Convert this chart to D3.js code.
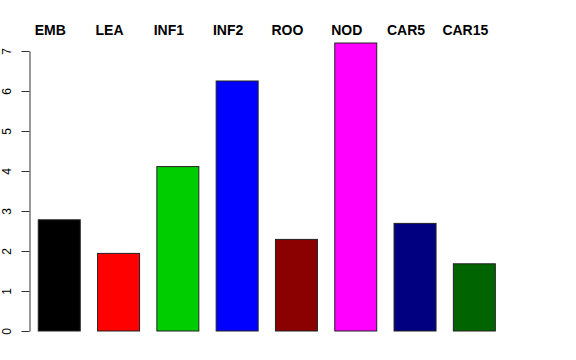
<!DOCTYPE html>
<html>
<head>
<meta charset="utf-8">
<script src="https://cdn.jsdelivr.net/npm/d3@7"></script>
<style>
  body { margin: 0; background: #fff; }
  svg { display: block; font-family: "Liberation Sans", Arial, sans-serif; }
</style>
</head>
<body>
<div id="chart"></div>
<script>
// tissue groups and their values
const categories = ['EMB', 'LEA', 'INF1', 'INF2', 'ROO', 'NOD', 'CAR5', 'CAR15'];
const values = [2.78, 1.94, 4.11, 6.25, 2.29, 7.2, 2.69, 1.68];
const colors = ['#000000', '#ff0000', '#00cd00', '#0000ff', '#8b0000', '#ff00ff', '#000080', '#006400'];
const yTicks = [0, 1, 2, 3, 4, 5, 6, 7];

const w = 576, h = 360;
const svg = d3.select('#chart').append('svg').attr('width', w).attr('height', h);

const x = d3.scaleBand()
  .domain(categories)
  .range([29.6, 504])
  .paddingInner(0.292)
  .paddingOuter(0.146);

const y = d3.scaleLinear().domain([0, 7]).range([331, 51]);

// bars
svg.append('g')
  .selectAll('rect')
  .data(categories)
  .join('rect')
  .attr('x', (d) => x(d))
  .attr('y', (d, i) => y(values[i]))
  .attr('width', x.bandwidth())
  .attr('height', (d, i) => y(0) - y(values[i]))
  .attr('fill', (d, i) => colors[i])
  .attr('stroke', '#222')
  .attr('stroke-width', 1);

// y axis, labels turned like R's default las=0
const axis = svg.append('g')
  .attr('transform', 'translate(29.5,0)')
  .call(d3.axisLeft(y).tickValues(yTicks).tickFormat(d3.format('d')).tickSize(8).tickSizeOuter(0));
axis.select('.domain').attr('stroke', '#333');
axis.selectAll('.tick line').attr('stroke', '#333');
axis.selectAll('.tick text')
  .attr('font-size', 12)
  .attr('font-family', '"Liberation Sans", Arial, sans-serif')
  .attr('fill', '#000')
  .attr('text-anchor', 'middle')
  .attr('x', null)
  .attr('dy', null)
  .attr('transform', 'translate(-18.5,0) rotate(-90)');

// group names across the top
svg.append('g')
  .selectAll('text')
  .data(categories)
  .join('text')
  .attr('x', (d) => x(d) + x.bandwidth() / 2 - 9)
  .attr('y', 35)
  .attr('text-anchor', 'middle')
  .attr('font-size', 14)
  .attr('font-weight', 'bold')
  .text((d) => d);
</script>
</body>
</html>
